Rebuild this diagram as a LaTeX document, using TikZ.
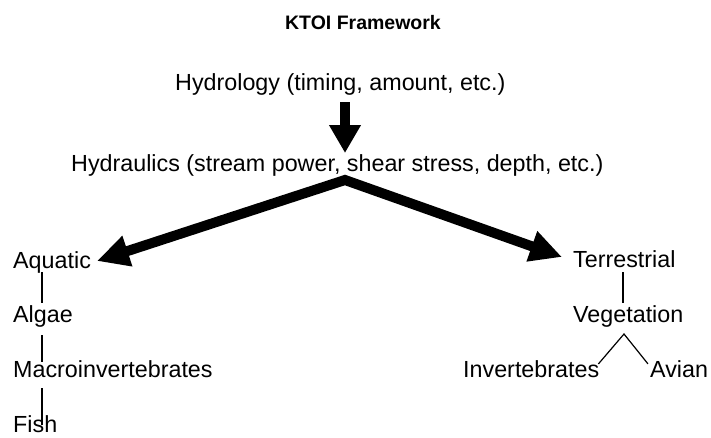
\documentclass[tikz,border=0pt]{standalone}
\usepackage{fontspec}
\setmainfont{Liberation Sans}
\usetikzlibrary{arrows.meta,calc}
\begin{document}
\begin{tikzpicture}[x=1pt,y=-1pt,
  lbl/.style={inner sep=0pt,anchor=base west,font=\fontsize{23.3}{28}\selectfont},
  ttl/.style={inner sep=0pt,anchor=base east,font=\fontsize{19.5}{23}\selectfont\bfseries},
  thin/.style={line width=1.2pt},
  bigarrow/.style={line width=10pt,line join=miter}]
\useasboundingbox (0,0) rectangle (711,437);
\node[ttl] (title) at (441,29) {KTOI Framework};
\node[lbl] (hydrology) at (175,90) {Hydrology (timing, amount, etc.)};
\node[lbl] (hydraulics) at (71,171) {Hydraulics (stream power, shear stress, depth, etc.)};
\node[lbl] (aquatic) at (13,268) {Aquatic};
\node[lbl] (algae) at (13,322) {Algae};
\node[lbl] (macro) at (13,377) {Macroinvertebrates};
\node[lbl] (fish) at (13,432) {Fish};
\node[lbl] (terrestrial) at (573,267) {Terrestrial};
\node[lbl] (vegetation) at (573,322) {Vegetation};
\node[lbl] (invert) at (463,377) {Invertebrates};
\node[lbl] (avian) at (650,377) {Avian};
% big arrows
\coordinate (dtop) at (345,102);
\coordinate (dtip) at (345,153);
\coordinate (apex) at (345,180);
\coordinate (ltip) at (97,261);
\coordinate (rtip) at (562,257);
\draw[bigarrow,-{Triangle[length=28pt,width=30pt]}] (dtop) -- (dtip);
\draw[bigarrow,{Triangle[length=32pt,width=30pt]}-{Triangle[length=32pt,width=30pt]}] (ltip) -- (apex) -- (rtip);
% thin connectors
\draw[thin] ([xshift=29pt,yshift=-4pt]aquatic.base west) -- ([xshift=29pt,yshift=19pt]algae.base west);
\draw[thin] ([xshift=29pt,yshift=-13pt]algae.base west) -- ([xshift=29pt,yshift=15pt]macro.base west);
\draw[thin] ([xshift=29pt,yshift=-11pt]macro.base west) -- ([xshift=29pt,yshift=7pt]fish.base west);
\draw[thin] ([xshift=50pt,yshift=-5pt]terrestrial.base west) -- ([xshift=50pt,yshift=19pt]vegetation.base west);
\coordinate (vapex) at ([xshift=51pt,yshift=-12pt]vegetation.base west);
\coordinate (ie) at ([xshift=-1pt,yshift=-4pt]invert.north east);
\coordinate (aw) at ([xshift=-2pt,yshift=-4pt]avian.north west);
\draw[thin] (ie) -- (vapex) -- (aw);
\end{tikzpicture}
\end{document}
